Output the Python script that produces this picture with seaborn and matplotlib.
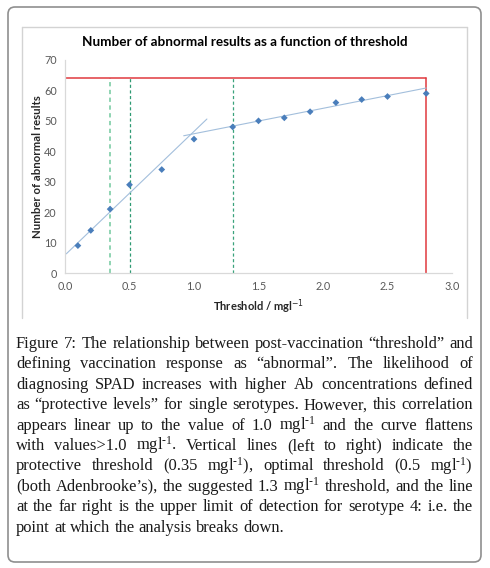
import matplotlib
matplotlib.use("Agg")
import matplotlib.pyplot as plt
import seaborn as sns
from matplotlib.patches import FancyBboxPatch

# =======================
# Data
# =======================
threshold = [0.1, 0.2, 0.35, 0.5, 0.75, 1.0, 1.3, 1.5, 1.7, 1.9, 2.1, 2.3, 2.5, 2.8]
abnormal = [9, 14, 21, 29, 34, 44, 48, 50, 51, 53, 56, 57, 58, 59]

trend_low_x = [0.01, 1.1]
trend_low_y = [6.3, 50.6]
trend_high_x = [0.92, 2.8]
trend_high_y = [45.1, 60.8]

protective_cut = 0.35
optimal_cut = 0.5
suggested_cut = 1.3
detection_limit = 2.8
limit_level = 64

x_ticks = [0.0, 0.5, 1.0, 1.5, 2.0, 2.5, 3.0]
y_ticks = [0, 10, 20, 30, 40, 50, 60, 70]

title = "Number of abnormal results as a function of threshold"
SUP = r"$^{\text{-}1}$"
caption_lines = [
    "Figure 7: The relationship between post-vaccination \u201cthreshold\u201d and",
    "defining vaccination response as \u201cabnormal\u201d. The likelihood of",
    "diagnosing SPAD increases with higher Ab concentrations defined",
    "as \u201cprotective levels\u201d for single serotypes. However, this correlation",
    f"appears linear up to the value of 1.0 mgl{SUP} and the curve flattens",
    f"with values>1.0 mgl{SUP}. Vertical lines (left to right) indicate the",
    f"protective threshold (0.35 mgl{SUP}), optimal threshold (0.5 mgl{SUP})",
    f"(both Adenbrooke\u2019s), the suggested 1.3 mgl{SUP} threshold, and the line",
    "at the far right is the upper limit of detection for serotype 4: i.e. the",
    "point at which the analysis breaks down.",
]

# =======================
# Style
# =======================
sns.set_style("white")
plt.rcParams["font.family"] = ["Lato", "DejaVu Sans"]
plt.rcParams["mathtext.fontset"] = "custom"
plt.rcParams["mathtext.rm"] = "Liberation Serif"
plt.rcParams["mathtext.it"] = "Liberation Serif:italic"
plt.rcParams["mathtext.bf"] = "Liberation Serif:bold"

W, H = 490, 568
fig = plt.figure(figsize=(W / 100, H / 100), dpi=100)
fig.patch.set_facecolor("white")

# pixel-space background axes for frames and caption
bg = fig.add_axes([0, 0, 1, 1], zorder=-1)
bg.set_xlim(0, W)
bg.set_ylim(H, 0)
bg.axis("off")

bg.add_patch(FancyBboxPatch((8, 7), 473, 555,
                            boxstyle="round,pad=0,rounding_size=7",
                            fc="white", ec="#8f8f8f", lw=1.2))
frame_c = "#d3d3d3"
bg.plot([22, 22], [318, 27], color=frame_c, lw=1)
bg.plot([22, 467], [27, 27], color=frame_c, lw=1)
bg.plot([467, 467], [27, 318], color=frame_c, lw=1)

bg.text(244.5, 42, title, ha="center", va="center",
        fontsize=9.7, fontweight="bold", color="black")

# =======================
# Chart
# =======================
ax = fig.add_axes([65 / W, (H - 273) / H, (452 - 65) / W, (273 - 60) / H])
ax.patch.set_alpha(0)

ax.plot([protective_cut, protective_cut], [0, limit_level],
        color="#8fd4b2", lw=1.4, ls=(0, (2.2, 1.8)))
ax.plot([optimal_cut, optimal_cut], [0, limit_level],
        color="#2f9a73", lw=0.9, ls=(0, (2.5, 2)))
ax.plot([suggested_cut, suggested_cut], [0, limit_level],
        color="#3aa37c", lw=0.9, ls=(0, (2.5, 2)))
ax.plot([0, detection_limit], [limit_level, limit_level], color="#e0393e", lw=1.1)
ax.plot([detection_limit, detection_limit], [0, limit_level], color="#e0393e", lw=1.1)

sns.lineplot(x=trend_low_x, y=trend_low_y, ax=ax, color="#a3bfdc", lw=0.8)
sns.lineplot(x=trend_high_x, y=trend_high_y, ax=ax, color="#a3bfdc", lw=0.8)
sns.scatterplot(x=threshold, y=abnormal, ax=ax, marker="D", s=12,
                color="#4a7ebb", edgecolor="none", zorder=5)

ax.set_xlim(0, 3)
ax.set_ylim(0, 70)
ax.set_xticks(x_ticks)
ax.set_xticklabels([f"{v:.1f}" for v in x_ticks])
ax.set_yticks(y_ticks)
ax.tick_params(length=0, labelsize=7.8, labelcolor="#595959")
ax.tick_params(axis="x", pad=6)
ax.tick_params(axis="y", pad=6)
for side in ["top", "right"]:
    ax.spines[side].set_visible(False)
for side in ["left", "bottom"]:
    ax.spines[side].set_color("#d9d9d9")
    ax.spines[side].set_linewidth(0.9)

ax.set_xlabel(r"Threshold / mgl$^{\mathrm{-1}}$", fontsize=8,
              fontweight="bold", labelpad=4, math_fontfamily="dejavusans")
ax.set_ylabel("Number of abnormal results", fontsize=8.2,
              fontweight="bold", labelpad=1)

# =======================
# Caption, justified
# =======================
fig.canvas.draw()
renderer = fig.canvas.get_renderer()
left, right = 16, 473
first_base, line_gap = 348, 20.4
cap_size = 11.9
space_w = cap_size * 100 / 72 * 0.25
for i, line in enumerate(caption_lines):
    words = line.split(" ")
    y = first_base + i * line_gap
    texts = [bg.text(0, y, w, fontsize=cap_size, family="Liberation Serif",
                     color="#1a1a1a", va="baseline", ha="left") for w in words]
    widths = [t.get_window_extent(renderer).width for t in texts]
    if i == len(caption_lines) - 1:
        gap = space_w
    else:
        gap = (right - left - sum(widths)) / (len(words) - 1)
    x = left
    for t, w in zip(texts, widths):
        t.set_x(x)
        x += w + gap

fig.savefig("out.png", dpi=100)
